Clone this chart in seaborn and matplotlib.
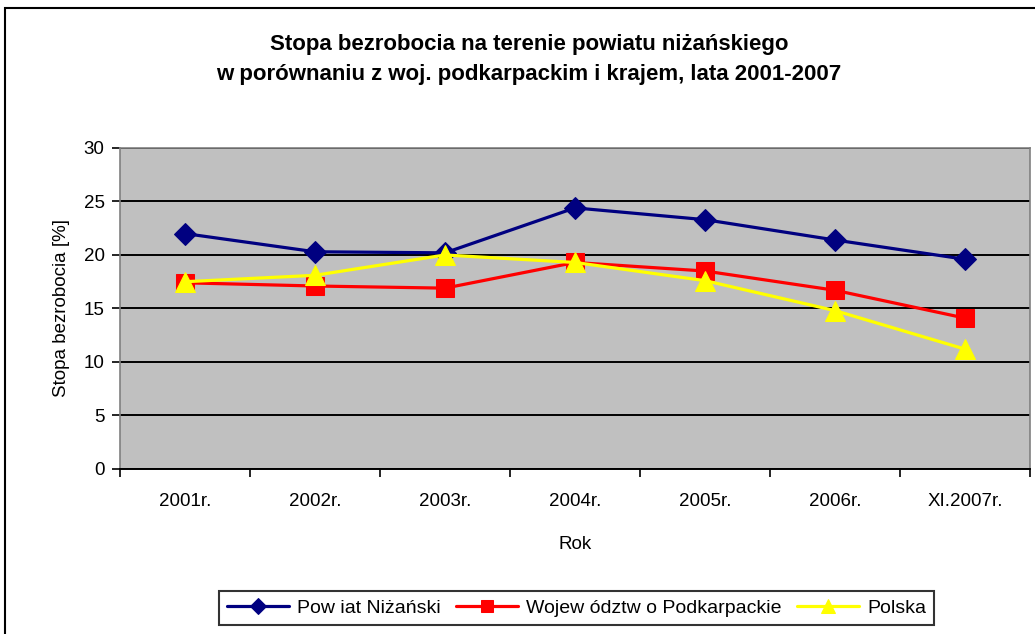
import matplotlib
matplotlib.use("Agg")
import matplotlib.pyplot as plt
import matplotlib.patches as mpatches
import seaborn as sns
import pandas as pd

years = ["2001r.", "2002r.", "2003r.", "2004r.", "2005r.", "2006r.", "XI.2007r."]
powiat = [22.0, 20.3, 20.2, 24.4, 23.3, 21.4, 19.6]
wojewodztwo = [17.4, 17.1, 16.9, 19.3, 18.5, 16.7, 14.1]
polska = [17.5, 18.1, 20.0, 19.3, 17.6, 14.8, 11.2]

series_names = ["Pow iat Niżański", "Wojew ództw o Podkarpackie", "Polska"]
colors = ["#000080", "#FF0000", "#FFFF00"]
markers = ["D", "s", "^"]
msizes = [11, 13, 15]

sns.set_theme(style="white")
plt.rcParams["font.family"] = ["Liberation Sans", "DejaVu Sans"]
plt.rcParams.update({"text.color": "black", "axes.labelcolor": "black",
                     "xtick.color": "black", "ytick.color": "black"})

fig = plt.figure(figsize=(10.35, 6.34), dpi=100)
ax = fig.add_axes([0.1159, 0.2603, 0.8793, 0.5063])
ax.set_facecolor("#C0C0C0")

xs = list(range(len(years)))
for name, vals, c, m, ms in zip(series_names, [powiat, wojewodztwo, polska], colors, markers, msizes):
    df = pd.DataFrame({"x": xs, "y": vals})
    sns.lineplot(data=df, x="x", y="y", ax=ax, color=c, linewidth=2.3,
                 marker=m, markersize=ms, markeredgecolor=c, label=name, zorder=3)

ax.set_xlim(-0.5, len(years) - 0.5)
ax.set_ylim(0, 30)
ax.set_yticks(range(0, 31, 5))
ax.set_xticks(xs)
ax.set_xticklabels(years)
ax.set_xticks([i - 0.5 for i in range(len(years) + 1)], minor=True)
ax.tick_params(axis="x", which="major", length=0, pad=17, labelsize=13.5, colors="black")
ax.tick_params(axis="x", which="minor", length=6, width=1.2, color="black", direction="out", bottom=True)
ax.tick_params(axis="y", length=6, width=1.2, color="black", direction="out", left=True,
               labelsize=13.5, pad=5, colors="black")
ax.grid(axis="y", color="black", linewidth=1.4)
ax.set_axisbelow(True)
for side in ["top", "right", "left"]:
    ax.spines[side].set_color("#808080")
    ax.spines[side].set_linewidth(1.2)
ax.spines["bottom"].set_color("black")
ax.spines["bottom"].set_linewidth(1.4)

ax.set_xlabel("Rok", fontsize=13.5, labelpad=19, color="black")
ax.set_ylabel("Stopa bezrobocia [%]", fontsize=13.5, labelpad=10, color="black")

fig.text(0.511, 0.93, "Stopa bezrobocia na terenie powiatu niżańskiego",
         ha="center", va="center", fontsize=16, fontweight="bold", color="black")
fig.text(0.511, 0.883, "w porównaniu z woj. podkarpackim i krajem, lata 2001-2007",
         ha="center", va="center", fontsize=16, fontweight="bold", color="black")

handles, labels = ax.get_legend_handles_labels()
ax.get_legend().remove()
leg = fig.legend(handles, labels, loc="center", bbox_to_anchor=(0.557, 0.041), ncol=3,
                 frameon=True, fancybox=False, fontsize=14, handlelength=3.2,
                 handletextpad=0.4, columnspacing=0.8, borderpad=0.4, markerscale=0.7)
leg.get_frame().set_edgecolor("black")
leg.get_frame().set_linewidth(1.5)
for t in leg.get_texts():
    t.set_color("black")

border = mpatches.Rectangle((5 / 1035, -0.01), 1.02, (634 - 8) / 634 + 0.01,
                            transform=fig.transFigure, fill=False,
                            edgecolor="black", linewidth=1.5, clip_on=False)
fig.patches.append(border)

fig.savefig("out.png", dpi=100, facecolor="white")
